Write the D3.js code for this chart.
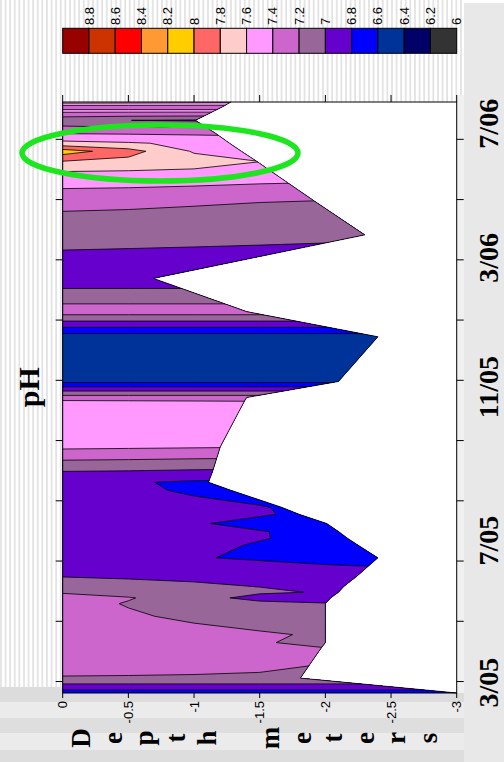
<!DOCTYPE html>
<html><head><meta charset="utf-8">
<script src="https://cdn.jsdelivr.net/npm/d3@7"></script>
<style>body{margin:0;background:#fff;overflow:hidden}</style>
</head><body>
<svg id="chart" width="504" height="762"></svg>
<script>
// ---------------- DATA ----------------
const depthLevels = [0, -0.5, -1, -1.5, -2, -2.5, -3];
// sampling days (days since 1 Mar 2005)
const sampleDays = [-9, 4, 29, 35, 42, 58, 69, 74, 79, 84, 93, 102, 109, 120, 126, 132, 139, 147, 153, 168, 175, 184, 206, 245, 249, 263, 302, 324, 353, 391, 421, 447, 455, 464, 471, 480, 491, 499, 503, 507];
// deepest sampled depth (m) for each sampling day
const bottomDepth = [-3.0, -1.81, -1.96, -2.0, -2.0, -2.0, -2.0, -2.04, -2.10, -2.14, -2.24, -2.33, -2.4, -2.25, -2.17, -2.10, -2.01, -1.80, -1.67, -1.28, -1.11, -1.14, -1.2, -1.38, -1.4, -2.1, -2.4, -1.4, -0.69, -2.3, -1.91, -1.58, -1.48, -1.36, -1.27, -1.16, -1.01, -1.15, -1.22, -1.28];
// pH profile at depthLevels, one row per sampling day
const phProfiles = [
  [6.70, 6.70, 6.70, 6.70, 6.70, 6.70, 6.70],
  [7.19, 7.19, 7.19, 7.19, 7.19, 7.19, 7.19],
  [7.33, 7.30, 7.27, 7.24, 7.21, 7.19, 7.19],
  [7.33, 7.29, 7.25, 7.21, 7.17, 7.17, 7.17],
  [7.33, 7.29, 7.25, 7.22, 7.18, 7.18, 7.18],
  [7.28, 7.22, 7.17, 7.12, 7.08, 7.08, 7.08],
  [7.26, 7.19, 7.14, 7.08, 7.01, 7.00, 7.00],
  [7.24, 7.21, 7.12, 6.90, 6.92, 6.92, 6.92],
  [7.19, 7.14, 7.09, 7.04, 6.98, 6.95, 6.95],
  [7.12, 7.08, 7.04, 6.995, 6.96, 6.95, 6.95],
  [6.99, 6.97, 6.95, 6.93, 6.92, 6.92, 6.92],
  [6.93, 6.90, 6.87, 6.84, 6.81, 6.79, 6.79],
  [6.90, 6.86, 6.81, 6.78, 6.75, 6.72, 6.72],
  [6.90, 6.87, 6.83, 6.79, 6.76, 6.74, 6.74],
  [6.90, 6.87, 6.84, 6.806, 6.77, 6.75, 6.75],
  [6.90, 6.87, 6.84, 6.805, 6.77, 6.75, 6.75],
  [6.90, 6.86, 6.81, 6.77, 6.74, 6.72, 6.72],
  [6.92, 6.88, 6.84, 6.81, 6.77, 6.75, 6.75],
  [6.92, 6.88, 6.84, 6.806, 6.77, 6.75, 6.75],
  [6.88, 6.83, 6.78, 6.76, 6.75, 6.75, 6.75],
  [6.87, 6.82, 6.77, 6.76, 6.75, 6.75, 6.75],
  [6.99, 6.98, 6.96, 6.95, 6.95, 6.95, 6.95],
  [7.44, 7.43, 7.42, 7.41, 7.41, 7.41, 7.41],
  [7.45, 7.44, 7.43, 7.42, 7.42, 7.42, 7.42],
  [7.30, 7.30, 7.30, 7.30, 7.30, 7.30, 7.30],
  [6.55, 6.55, 6.55, 6.55, 6.55, 6.55, 6.55],
  [6.50, 6.50, 6.50, 6.50, 6.50, 6.50, 6.50],
  [7.30, 7.30, 7.30, 7.30, 7.30, 7.30, 7.30],
  [6.87, 6.87, 6.87, 6.87, 6.87, 6.87, 6.87],
  [7.07, 7.06, 7.05, 7.04, 7.03, 7.02, 7.02],
  [7.26, 7.25, 7.23, 7.21, 7.20, 7.20, 7.20],
  [7.61, 7.60, 7.58, 7.55, 7.53, 7.53, 7.53],
  [7.79, 7.74, 7.68, 7.601, 7.52, 7.50, 7.50],
  [8.10, 7.88, 7.58, 7.50, 7.46, 7.46, 7.46],
  [7.66, 7.62, 7.56, 7.52, 7.50, 7.50, 7.50],
  [7.38, 7.37, 7.36, 7.35, 7.35, 7.35, 7.35],
  [7.05, 7.001, 6.98, 6.98, 6.98, 6.98, 6.98],
  [7.45, 7.45, 7.45, 7.45, 7.45, 7.45, 7.45],
  [7.30, 7.30, 7.30, 7.30, 7.30, 7.30, 7.30],
  [7.70, 7.68, 7.66, 7.64, 7.64, 7.64, 7.64]
];
// colour scale (legend order, left to right)
const legendColors = ["#990000", "#CC3300", "#FF0000", "#FF9933", "#FFCC00", "#FF6666", "#FFCCCC", "#FF99FF", "#CC66CC", "#996699", "#6600CC", "#0000FF", "#003399", "#000066", "#333333"];
const legendLabels = ["8.8", "8.6", "8.4", "8.2", "8", "7.8", "7.6", "7.4", "7.2", "7", "6.8", "6.6", "6.4", "6.2", "6"];
const legendValues = [8.8, 8.6, 8.4, 8.2, 8.0, 7.8, 7.6, 7.4, 7.2, 7.0, 6.8, 6.6, 6.4, 6.2, 6.0];
// axes
const depthTicks = [0, -0.5, -1, -1.5, -2, -2.5, -3];
const depthTickLabels = ["0", "-0.5", "-1", "-1.5", "-2", "-2.5", "-3"];
const timeTickDays = [1, 53.6, 106.2, 158.8, 211.4, 264, 316.6, 369.2, 421.8, 474.4];
const timeLabels = ["3/05", "7/05", "11/05", "3/06", "7/06"];
const timeLabelDays = [0, 124, 258, 371, 488];
const axisTitleLetters = ["D", "e", "p", "t", "h", "", "m", "e", "t", "e", "r", "s"];
const chartTitle = "pH";

// ---------------- LAYOUT ----------------
const svg = d3.select("#chart");
const X0 = 62.7, X1 = 456.7, Y0 = 102, Y1 = 693;
const x = d3.scaleLinear().domain([0, -3]).range([X0, X1]);
const y = d3.scaleLinear().domain([-9, 507]).range([Y1, Y0]);

const defs = svg.append("defs");
const pat = defs.append("pattern").attr("id", "stripes").attr("patternUnits", "userSpaceOnUse")
  .attr("width", 4.6).attr("height", 20);
pat.append("rect").attr("width", 4.6).attr("height", 20).attr("fill", "#ffffff");
pat.append("rect").attr("x", 0.3).attr("width", 1.3).attr("height", 20).attr("fill", "#d9d9d9");

// backgrounds
svg.append("rect").attr("x", 0).attr("y", 0).attr("width", 464).attr("height", 687).attr("fill", "url(#stripes)");
svg.append("rect").attr("x", 464).attr("y", 3).attr("width", 40).attr("height", 759).attr("fill", "#e8e8e8");
const bands = [[687, 702, "#dcdcdc"], [702, 718, "#ebebeb"], [718, 733, "#dedede"], [733, 750, "#ebebeb"], [750, 762, "#dddddd"]];
svg.selectAll("rect.band").data(bands).join("rect").attr("class", "band")
  .attr("x", 0).attr("width", 464).attr("y", d => d[0]).attr("height", d => d[1] - d[0]).attr("fill", d => d[2]);
svg.append("rect").attr("x", 456.7).attr("y", 95).attr("width", 7.3).attr("height", 598).attr("fill", "#f0f0f0");

// plot background
svg.append("rect").attr("x", X0).attr("y", Y0).attr("width", X1 - X0).attr("height", Y1 - Y0).attr("fill", "#fff");

// ---------------- CONTOURS ----------------
const nx = depthLevels.length, ny = sampleDays.length;
const values = phProfiles.flat();
const thresholds = legendValues.slice().reverse(); // 6.0 .. 8.8
const colorOf = {};
legendValues.forEach((v, i) => colorOf[v.toFixed(1)] = legendColors[i]);

function interpIndex(arr, t) {
  const n = arr.length;
  const i = Math.max(0, Math.min(n - 2, Math.floor(t)));
  return arr[i] + (t - i) * (arr[i + 1] - arr[i]);
}
const proj = d3.geoTransform({
  point(gx, gy) {
    this.stream.point(x(interpIndex(depthLevels, gx - 0.5)), y(interpIndex(sampleDays, gy - 0.5)));
  }
});
const path = d3.geoPath(proj);
const contours = d3.contours().size([nx, ny]).thresholds(thresholds)(values);

const clipPts = [[x(0), y(sampleDays[0])], [x(0), y(sampleDays[ny - 1])]];
for (let j = ny - 1; j >= 0; j--) clipPts.push([x(bottomDepth[j]), y(sampleDays[j])]);
defs.append("clipPath").attr("id", "dataClip").append("path")
  .attr("d", "M" + clipPts.map(p => p.join(",")).join("L") + "Z");

const g = svg.append("g").attr("clip-path", "url(#dataClip)");
g.selectAll("path.fill").data(contours).join("path").attr("class", "fill")
  .attr("d", path).attr("fill", d => colorOf[d.value.toFixed(1)]).attr("stroke", "none");
g.selectAll("path.line").data(contours.slice(1)).join("path").attr("class", "line")
  .attr("d", path).attr("fill", "none").attr("stroke", "#000").attr("stroke-width", 0.8);

// sampled-bottom outline
const line = d3.line().x(d => x(d[0])).y(d => y(d[1]));
svg.append("path").attr("d", line(bottomDepth.map((b, j) => [b, sampleDays[j]])))
  .attr("fill", "none").attr("stroke", "#000").attr("stroke-width", 0.8);

// ---------------- FRAME & AXES ----------------
svg.append("rect").attr("x", X0).attr("y", Y0).attr("width", X1 - X0).attr("height", Y1 - Y0)
  .attr("fill", "none").attr("stroke", "#000").attr("stroke-width", 1);

const axG = svg.append("g").attr("stroke", "#000").attr("stroke-width", 1);
depthTicks.forEach(d => {
  axG.append("line").attr("x1", x(d)).attr("x2", x(d)).attr("y1", Y0 - 7).attr("y2", Y0);
  axG.append("line").attr("x1", x(d)).attr("x2", x(d)).attr("y1", Y1).attr("y2", Y1 + 5);
});
timeTickDays.forEach(t => {
  axG.append("line").attr("x1", X0 - 7).attr("x2", X0).attr("y1", y(t)).attr("y2", y(t));
  axG.append("line").attr("x1", X1).attr("x2", X1 + 7).attr("y1", y(t)).attr("y2", y(t));
});

// depth tick labels (rotated)
svg.selectAll("text.dtick").data(depthTicks).join("text").attr("class", "dtick")
  .attr("transform", d => `translate(${x(d)},701) rotate(-90)`)
  .attr("text-anchor", "end").attr("dy", "0.35em")
  .style("font", "13px 'Liberation Sans', Arial, sans-serif")
  .text((d, i) => depthTickLabels[i]);

// time labels (rotated, right side)
svg.selectAll("text.tlab").data(timeLabels).join("text").attr("class", "tlab")
  .attr("transform", (d, i) => `translate(497.5,${y(timeLabelDays[i])}) rotate(-90)`)
  .attr("text-anchor", "middle")
  .style("font", "bold 28px 'Liberation Serif', 'Times New Roman', serif")
  .text(d => d);

// axis title: stacked letters, rotated
svg.selectAll("text.atitle").data(axisTitleLetters).join("text").attr("class", "atitle")
  .attr("transform", (d, i) => `translate(${90 + i * 31.5},738) rotate(-90)`)
  .attr("text-anchor", "middle")
  .style("font", "bold 27px 'Liberation Serif', 'Times New Roman', serif")
  .text(d => d);

// chart title
svg.append("text").attr("transform", `translate(39,${y(258)}) rotate(-90)`)
  .attr("text-anchor", "middle")
  .style("font", "bold 30px 'Liberation Serif', 'Times New Roman', serif")
  .text(chartTitle);

// ---------------- LEGEND ----------------
const lx = d3.scaleBand().domain(d3.range(legendColors.length)).range([X0, X1]);
svg.selectAll("rect.leg").data(legendColors).join("rect").attr("class", "leg")
  .attr("x", (d, i) => lx(i)).attr("y", 28.3).attr("width", lx.bandwidth()).attr("height", 25)
  .attr("fill", d => d).attr("stroke", "#000").attr("stroke-width", 1);
svg.selectAll("text.leglab").data(legendLabels).join("text").attr("class", "leglab")
  .attr("transform", (d, i) => `translate(${lx(i) + lx.bandwidth()},25) rotate(-90)`)
  .attr("dy", "0.35em").attr("text-anchor", "start")
  .style("font", "13px 'Liberation Sans', Arial, sans-serif")
  .text(d => d);

// annotation ellipse
svg.append("ellipse").attr("cx", 160).attr("cy", 153).attr("rx", 138).attr("ry", 28)
  .attr("fill", "none").attr("stroke", "#1ee61e").attr("stroke-width", 5.5);
</script>
</body></html>
